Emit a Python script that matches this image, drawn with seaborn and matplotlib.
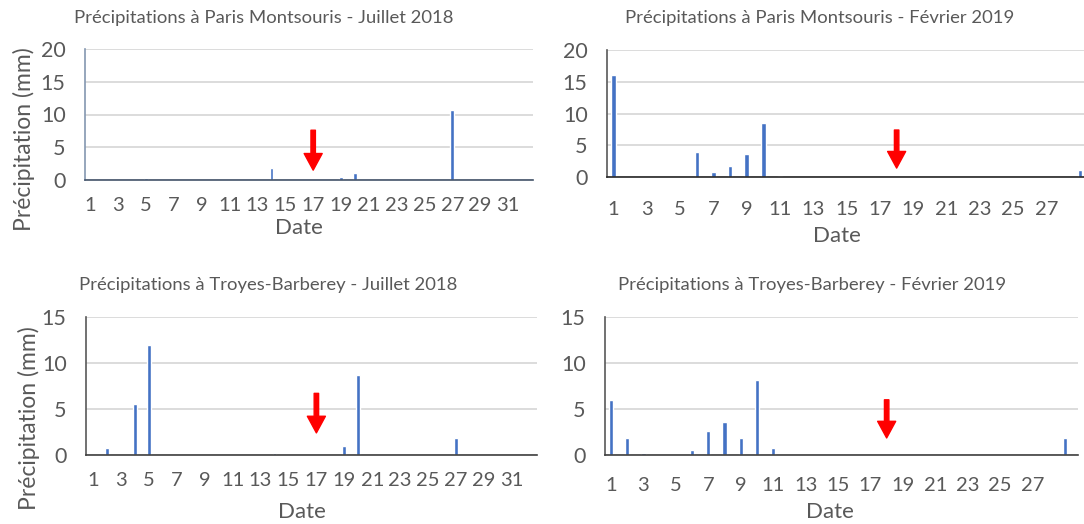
import matplotlib
matplotlib.use("Agg")
import matplotlib.pyplot as plt
import seaborn as sns
import pandas as pd

W, H = 1084, 524

# Paris Montsouris - Juillet 2018 (mm, only days with rain)
paris_jul_days = [5, 14, 19, 20, 27]
paris_jul_mm = [0.3, 1.9, 0.5, 1.0, 10.7]

# Paris Montsouris - Fevrier 2019
paris_feb_days = [1, 6, 7, 8, 9, 10, 11, 29]
paris_feb_mm = [16.0, 4.0, 0.8, 1.8, 3.6, 8.5, 0.2, 1.1]

# Troyes-Barberey - Juillet 2018
troyes_jul_days = [2, 4, 5, 14, 19, 20, 27]
troyes_jul_mm = [0.8, 5.5, 12.0, 0.2, 1.0, 8.7, 1.8]

# Troyes-Barberey - Fevrier 2019
troyes_feb_days = [1, 2, 3, 6, 7, 8, 9, 10, 11, 29]
troyes_feb_mm = [6.0, 1.9, 0.2, 0.5, 2.6, 3.6, 1.8, 8.2, 0.8, 1.9]

titles = [
    "Précipitations à Paris Montsouris - Juillet 2018",
    "Précipitations à Paris Montsouris - Février 2019",
    "Précipitations à Troyes-Barberey - Juillet 2018",
    "Précipitations à Troyes-Barberey - Février 2019",
]
jul_ticks = list(range(1, 32, 2))
feb_ticks = list(range(1, 28, 2))
arrow_days = [17, 18, 17, 18]
ylabel = "Précipitation (mm)"
xlabel = "Date"

BLUE = "#4472C4"
TXT = "#595959"

sns.set_theme(style="white")
plt.rcParams['font.family'] = ['Lato', 'DejaVu Sans']

fig = plt.figure(figsize=(W / 100, H / 100), dpi=100)


def rect(l, t, r, b):
    return [l / W, 1 - b / H, (r - l) / W, (b - t) / H]


def ftext(x, y, s, **kw):
    fig.text(x / W, 1 - y / H, s, ha="center", va="center", color=TXT, **kw)


panels = [
    dict(days=paris_jul_days, mm=paris_jul_mm, box=(85, 49, 533, 180), xlim=(0.6, 32.8),
         ymax=20, ticks=jul_ticks, arrow=(7.6, 1.5), pad=12, title=(264, 18), date=(299, 228),
         left="#8497B0", bottom="#44546A"),
    dict(days=paris_feb_days, mm=paris_feb_mm, box=(607, 50, 1084, 177), xlim=(0.61, 29.25),
         ymax=20, ticks=feb_ticks, arrow=(7.4, 1.4), pad=17, title=(820, 18), date=(837, 236),
         left="#595959", bottom="#262626"),
    dict(days=troyes_jul_days, mm=troyes_jul_mm, box=(86, 317, 537, 455), xlim=(0.5, 32.8),
         ymax=15, ticks=jul_ticks, arrow=(6.7, 2.4), pad=12, title=(268, 285), date=(302, 512),
         left="#595959", bottom="#404040"),
    dict(days=troyes_feb_days, mm=troyes_feb_mm, box=(605, 317, 1078, 455), xlim=(0.63, 29.8),
         ymax=15, ticks=feb_ticks, arrow=(6.0, 1.85), pad=16, title=(812, 285), date=(830, 512),
         left="#595959", bottom="#404040"),
]

for i, p in enumerate(panels):
    ax = fig.add_axes(rect(*p["box"]))
    df = pd.DataFrame({"Date": p["days"], "mm": p["mm"]})
    sns.barplot(data=df, x="Date", y="mm", native_scale=True, width=0.27,
                color=BLUE, saturation=1, errorbar=None, ax=ax)
    ax.set_xlim(*p["xlim"])
    ax.set_ylim(0, p["ymax"])
    ax.set_yticks(range(0, p["ymax"] + 1, 5))
    ax.set_xticks(p["ticks"])
    ax.set_xticklabels([str(t) for t in p["ticks"]])
    ax.set_xlabel("")
    ax.set_ylabel("")
    ax.yaxis.grid(True, color="#d9d9d9", linewidth=1.3)
    ax.set_axisbelow(True)
    for s in ["top", "right"]:
        ax.spines[s].set_visible(False)
    ax.spines["left"].set_color(p["left"])
    ax.spines["bottom"].set_color(p["bottom"])
    ax.spines["left"].set_linewidth(1.2)
    ax.spines["bottom"].set_linewidth(1.2)
    ax.tick_params(axis="y", length=0, pad=14, labelsize=15.5, labelcolor=TXT)
    ax.tick_params(axis="x", length=0, pad=p["pad"], labelsize=14.5, labelcolor=TXT)

    d = arrow_days[i]
    top, tip = p["arrow"]
    ax.annotate("", xy=(d, tip), xytext=(d, top),
                arrowprops=dict(facecolor="red", edgecolor="red", width=3.2,
                                headwidth=13, headlength=12, shrink=0))

    ftext(*p["title"], titles[i], fontsize=13.3)
    ftext(*p["date"], xlabel, fontsize=16)

ftext(24, 139, ylabel, fontsize=16.5, rotation=90)
ftext(29, 418, ylabel, fontsize=16.5, rotation=90)

fig.savefig("out.png", dpi=100)
